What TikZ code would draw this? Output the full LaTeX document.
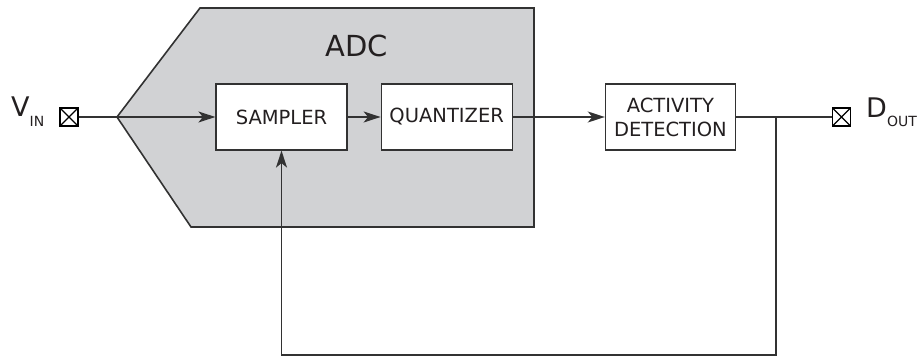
\documentclass[tikz,border=0pt]{standalone}
\usepackage{fontspec}
\setmainfont{DejaVu Sans}
\usetikzlibrary{positioning,arrows.meta}
\definecolor{adcgray}{RGB}{209,210,212}
\definecolor{wire}{RGB}{50,50,50}
\definecolor{ink}{RGB}{35,31,32}
\begin{document}
\begin{tikzpicture}[x=1pt, y=-1pt, text=ink,
  block/.style = {draw=wire, line width=1.2pt, fill=white, minimum width=131pt, minimum height=66pt, inner sep=0pt, align=center, font=\fontsize{19.5}{24}\selectfont},
  pad/.style = {draw=black, line width=1.8pt, fill=white, minimum size=18pt, inner sep=0pt,
    path picture={\draw[line width=1.1pt] (path picture bounding box.south west) -- (path picture bounding box.north east) (path picture bounding box.north west) -- (path picture bounding box.south east);}},
  wire/.style = {draw=wire, line width=1.6pt},
  sig/.style = {wire, -{Stealth[length=17pt, width=11pt, inset=4.5pt]}}]
\useasboundingbox (0,0) rectangle (923,358);

\coordinate (tip) at (117,117);
\draw[draw=wire, line width=1.6pt, fill=adcgray] (tip) -- (200,8) -- (534,8) -- (534,227) -- (191,227) -- cycle;
\node[font=\fontsize{29}{29}\selectfont] (adc) at (357,46) {ADC};

\node[pad] (vin) at (69,117) {};
\node[block] (sampler) at (281.5,117) {SAMPLER};
\node[block] (quantizer) [right=33pt of sampler] {QUANTIZER};
\node[block, minimum width=130pt] (activity) [right=92pt of quantizer] {ACTIVITY\\DETECTION};
\node[pad] (dout) at (841.5,117) {};

\node[anchor=base west, inner sep=0pt, font=\fontsize{27}{27}\selectfont] (vinlabel) at (11,117) {V\raisebox{-10pt}{\fontsize{14}{14}\selectfont IN}};
\node[anchor=base west, inner sep=0pt, font=\fontsize{27}{27}\selectfont] (doutlabel) at (866,118) {D\raisebox{-9pt}{\fontsize{14}{14}\selectfont OUT}};

\coordinate (branch) at (776,117);
\coordinate (fbcorner) at (776,355);

\draw[sig] (vin) -- (sampler);
\draw[sig] (sampler) -- (quantizer);
\draw[sig] (quantizer) -- (activity);
\draw[wire] (activity) -- (dout);
\draw[sig] (branch) -- (fbcorner) -| (sampler.south);

\end{tikzpicture}
\end{document}
